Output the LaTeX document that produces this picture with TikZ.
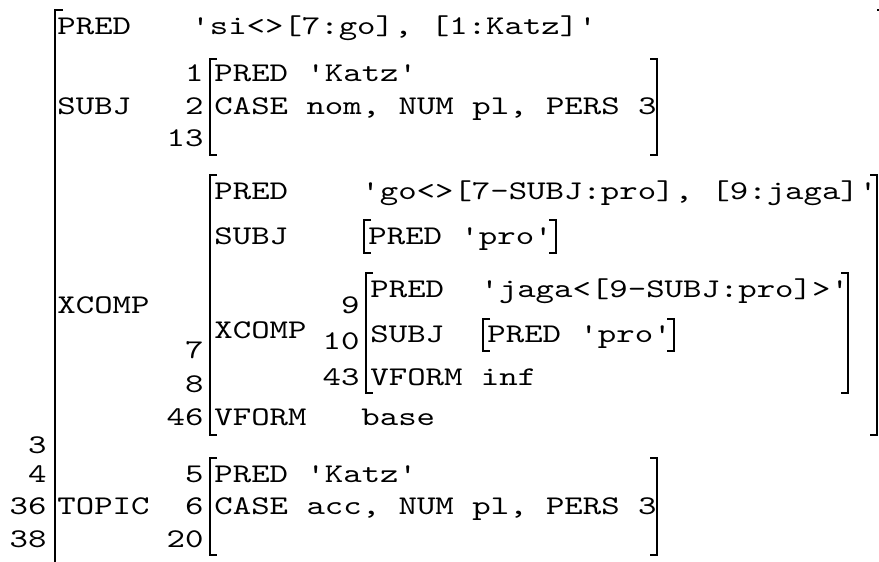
\documentclass[tikz,border=0pt]{standalone}
\usepackage{fontspec}
\setmonofont{lmmono10-regular.otf}[FakeStretch=1.3]
\begin{document}
\begin{tikzpicture}[x=.5pt,y=-.5pt,
  every node/.style={font=\ttfamily\fontsize{13.5pt}{15pt}\selectfont, inner sep=0pt},
  att/.style={anchor=base west},
  idx/.style={anchor=base east},
  brk/.style={line width=1.3pt}]
  \useasboundingbox (0,0) rectangle (879,562);
  \clip (0,0) rectangle (879,562);

  % outer f-structure
  \node[att] (pred) at (57,34) {PRED};
  \node[att] (si) at (191,34) {'si<>[7:go], [1:Katz]'};
  \draw[brk] (63,10) -| (55,570);
  \draw[brk] (877,10) -| (886,570);

  % SUBJ
  \node[att] (subj) at (57,114) {SUBJ};
  \node[idx] (i1) at (204,82) {1};
  \node[idx] (i2) at (204,114) {2};
  \node[idx] (i13) at (204,146) {13};
  \node[att] (spred) at (214,82) {PRED 'Katz'};
  \node[att] (scase) at (214,114) {CASE nom, NUM pl, PERS 3};
  \draw[brk] (217,59) -| (210,155) -- ++(7,0);
  \draw[brk] (650,59) -| (657,155) -- ++(-7,0);

  % XCOMP
  \node[att] (xcomp) at (57,313) {XCOMP};
  \node[att] (xpred) at (214,199) {PRED};
  \node[att] (go) at (361,199) {'go<>[7-SUBJ:pro], [9:jaga]'};
  \node[att] (xsubj) at (214,244) {SUBJ};
  \node[att] (pro) at (368,244) {PRED 'pro'};
  \draw[brk] (371,220) -| (364,253) -- ++(7,0);
  \draw[brk] (549,220) -| (556,253) -- ++(-7,0);
  \node[att] (xx) at (214,338) {XCOMP};
  \node[idx] (i7) at (204,358) {7};
  \node[idx] (i8) at (204,392) {8};
  \node[idx] (i46) at (204,425) {46};
  \node[att] (vform) at (214,425) {VFORM};
  \node[att] (base) at (361,425) {base};
  \draw[brk] (217,175) -| (210,435) -- ++(7,0);
  \draw[brk] (870,175) -| (877,435) -- ++(-7,0);

  % XCOMP inside XCOMP
  \node[idx] (i9) at (360,313) {9};
  \node[idx] (i10) at (360,349) {10};
  \node[idx] (i43) at (360,385) {43};
  \node[att] (jpred) at (370,297) {PRED};
  \node[att] (jaga) at (480,297) {'jaga<[9-SUBJ:pro]>'};
  \node[att] (jsubj) at (370,342) {SUBJ};
  \node[att] (jpro) at (487,342) {PRED 'pro'};
  \draw[brk] (490,319) -| (483,351) -- ++(7,0);
  \draw[brk] (667,319) -| (674,351) -- ++(-7,0);
  \node[att] (vinf) at (370,385) {VFORM inf};
  \draw[brk] (373,273) -| (366,393) -- ++(7,0);
  \draw[brk] (841,273) -| (848,393) -- ++(-7,0);

  % TOPIC
  \node[idx] (i3) at (47,453) {3};
  \node[idx] (i4) at (47,482) {4};
  \node[idx] (i36) at (47,514) {36};
  \node[idx] (i38) at (47,547) {38};
  \node[att] (topic) at (57,514) {TOPIC};
  \node[idx] (i5) at (204,482) {5};
  \node[idx] (i6) at (204,514) {6};
  \node[idx] (i20) at (204,547) {20};
  \node[att] (tpred) at (214,482) {PRED 'Katz'};
  \node[att] (tcase) at (214,514) {CASE acc, NUM pl, PERS 3};
  \draw[brk] (217,458) -| (210,555) -- ++(7,0);
  \draw[brk] (650,458) -| (657,555) -- ++(-7,0);
\end{tikzpicture}
\end{document}
